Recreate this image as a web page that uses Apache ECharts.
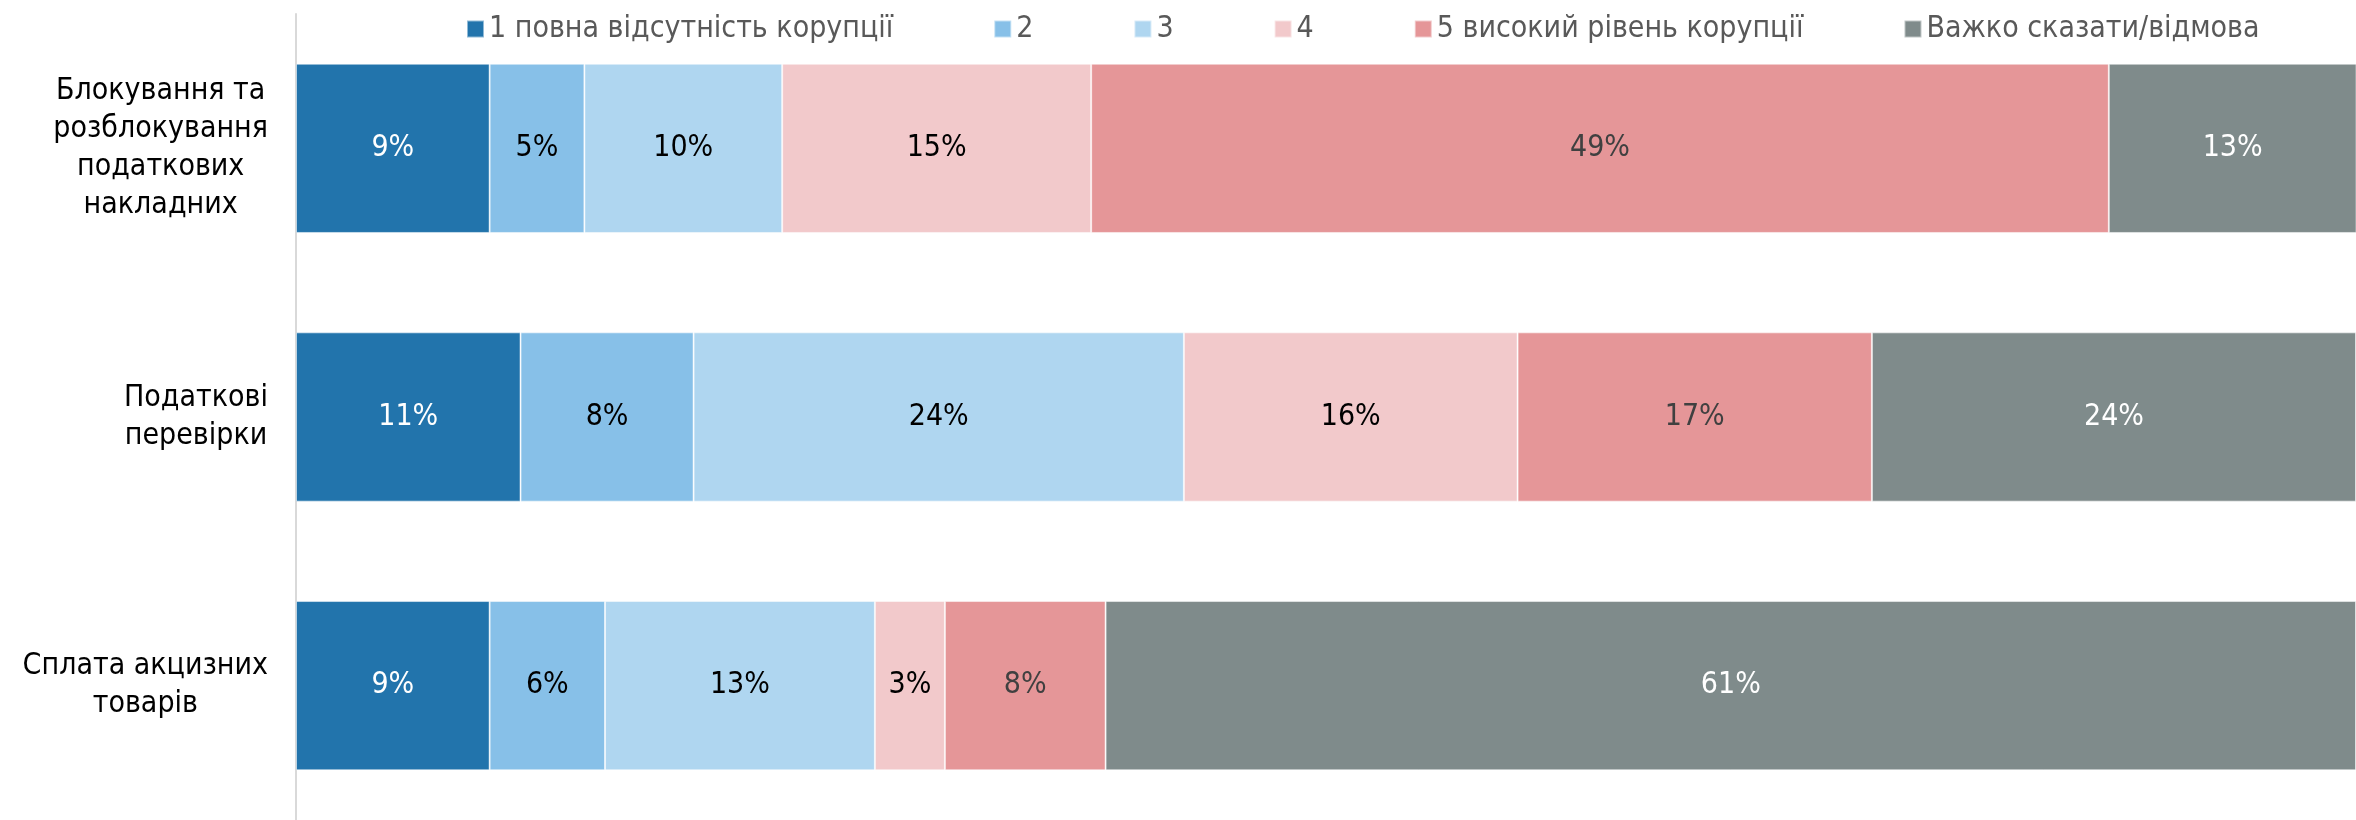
<!DOCTYPE html>
<html>
<head>
<meta charset="utf-8">
<script src="https://cdn.jsdelivr.net/npm/echarts@6/dist/echarts.min.js"></script>
<style>
  html, body { margin: 0; padding: 0; background: #fff; }
  #chart { width: 2356px; height: 820px; }
</style>
</head>
<body>
<div id="chart"></div>
<script>
// категорії (зверху вниз)
const categories = [
    'Блокування та\nрозблокування\nподаткових\nнакладних',
    'Податкові\nперевірки',
    'Сплата акцизних\nтоварів'
];
const seriesNames = [
    '1 повна відсутність корупції',
    '2',
    '3',
    '4',
    '5 високий рівень корупції',
    'Важко сказати/відмова'
];
// частки, %
const s1 = [9.4, 10.9, 9.4];
const s2 = [4.6, 8.4, 5.6];
const s3 = [9.6, 23.8, 13.1];
const s4 = [15.0, 16.2, 3.4];
const s5 = [49.4, 17.2, 7.8];
const s6 = [13.0, 23.5, 60.7];

const colors = ['#2274ac', '#87c0e8', '#afd6f0', '#f2c9cb', '#e59698', '#7f8b8b'];
const labelColors = ['#ffffff', '#000000', '#000000', '#000000', '#404040', '#ffffff'];
const FONT = '"DejaVu Sans Condensed", "Liberation Sans Narrow", sans-serif';

const chart = echarts.init(document.getElementById('chart'));
const allData = [s1, s2, s3, s4, s5, s6];

chart.setOption({
    animation: false,
    color: colors,
    legend: {
        top: 9,
        left: 461,
        itemWidth: 17,
        itemHeight: 17,
        itemGap: 100,
        icon: 'rect',
        textStyle: { fontFamily: FONT, fontSize: 30, color: '#595959' },
        data: seriesNames
    },
    grid: { left: 296, right: 0, top: 14, bottom: -4, containLabel: false },
    xAxis: {
        type: 'value', min: 0, max: 100, show: false
    },
    yAxis: {
        type: 'category',
        inverse: true,
        data: categories,
        axisLine: { show: true, lineStyle: { color: '#d9d9d9', width: 2 } },
        axisTick: { show: false },
        axisLabel: {
            margin: 28,
            align: 'right',
            // рядки центровані всередині блоку, блок притиснутий праворуч
            formatter: v => v.split('\n').map(l => '{c|' + l + '}').join('\n'),
            rich: {
                c: {
                    align: 'center',
                    fontFamily: FONT,
                    fontSize: 30,
                    lineHeight: 38,
                    color: '#000'
                }
            }
        }
    },
    series: seriesNames.map((name, i) => ({
        name: name,
        type: 'bar',
        stack: 'total',
        barCategoryGap: '37%',
        data: allData[i],
        itemStyle: { borderColor: 'rgba(255,255,255,0.5)', borderWidth: 1 },
        label: {
            show: true,
            position: 'inside',
            fontFamily: FONT,
            fontSize: 30,
            color: labelColors[i],
            formatter: p => Math.round(p.value) + '%'
        }
    }))
});
</script>
</body>
</html>
